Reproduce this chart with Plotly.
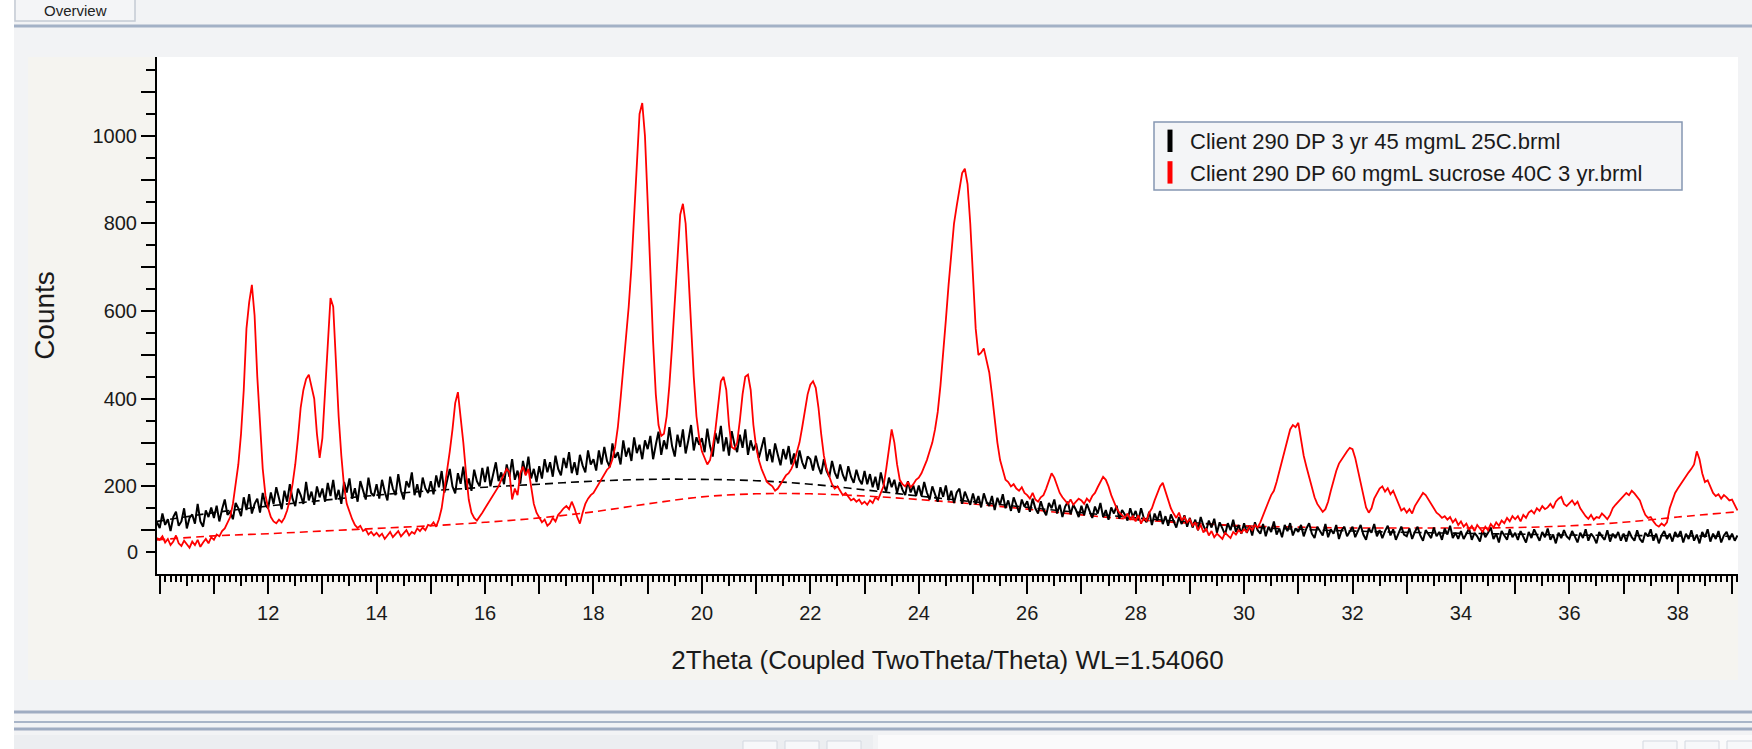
import numpy as np
import plotly.graph_objects as go

# ---------------- data ----------------
TWO_THETA_START = 9.95
TWO_THETA_STEP = 0.05

BLACK_NAME = "Client 290 DP 3 yr 45 mgmL 25C.brml"
RED_NAME = "Client 290 DP 60 mgmL sucrose 40C 3 yr.brml"

black_counts = [118,
    105, 138, 112, 125, 98, 130, 142, 110, 120, 150, 104, 128, 136, 115, 160, 120, 108, 145, 130, 152,
    128, 156, 120, 148, 170, 135, 142, 125, 162, 150, 132, 175, 146, 182, 138, 160, 172, 140, 185, 158,
    150, 186, 160, 198, 170, 148, 190, 165, 205, 172, 155, 195, 180, 160, 210, 168, 188, 158, 200, 175,
    195, 165, 208, 178, 215, 170, 192, 160, 210, 186, 218, 172, 196, 165, 212, 190, 170, 220, 185, 178,
    205, 172, 215, 188, 168, 222, 195, 180, 228, 190, 170, 212, 198, 232, 180, 205, 175, 220, 196, 185,
    212, 182, 225, 198, 235, 186, 210, 240, 200, 184, 230, 206, 245, 192, 218, 190, 238, 212, 200, 242,
    210, 245, 200, 228, 255, 212, 232, 205, 250, 222, 262, 215, 236, 206, 258, 228, 268, 218, 240, 210,
    246, 218, 262, 232, 255, 222, 270, 240, 225, 265, 242, 278, 230, 255, 226, 272, 248, 232, 282, 250,
    262, 236, 282, 250, 290, 258, 244, 298, 265, 278, 250, 305, 268, 288, 258, 312, 276, 295, 262, 305,
    285, 315, 262, 295, 325, 272, 305, 285, 335, 292, 268, 318, 290, 330, 275, 305, 340, 282, 312, 295,
    310, 278, 332, 292, 268, 322, 298, 338, 280, 312, 270, 326, 296, 278, 318, 288, 330, 272, 305, 282,
    298, 265, 290, 312, 258, 285, 255, 298, 272, 248, 285, 262, 292, 250, 275, 242, 282, 255, 240, 268,
    262, 236, 270, 245, 228, 262, 235, 222, 258, 232, 218, 250, 226, 212, 246, 222, 208, 238, 216, 205,
    235, 205, 228, 198, 222, 192, 232, 205, 188, 220, 198, 215, 185, 210, 192, 180, 212, 186, 202, 178,
    202, 178, 210, 186, 170, 200, 182, 165, 198, 176, 202, 168, 190, 162, 186, 195, 160, 188, 172, 158,
    184, 160, 178, 152, 184, 165, 155, 178, 146, 174, 158, 182, 150, 168, 144, 175, 158, 140, 170, 154,
    166, 142, 172, 150, 138, 166, 146, 134, 162, 150, 170, 138, 158, 130, 154, 165, 136, 158, 146, 130,
    156, 134, 160, 142, 128, 154, 138, 162, 130, 146, 124, 152, 138, 156, 126, 146, 136, 122, 150, 130,
    144, 122, 150, 128, 118, 142, 112, 138, 122, 144, 114, 132, 110, 136, 120, 106, 130, 114, 134, 108,
    128, 106, 124, 100, 130, 110, 98, 122, 106, 126, 94, 118, 104, 90, 116, 100, 124, 96, 112, 92,
    116, 94, 110, 88, 118, 100, 92, 114, 86, 108, 96, 120, 90, 104, 84, 112, 98, 116, 88, 104,
    96, 112, 86, 104, 116, 92, 82, 108, 98, 88, 114, 84, 102, 92, 112, 80, 100, 108, 86, 98,
    108, 84, 98, 112, 90, 78, 104, 94, 114, 86, 100, 82, 98, 110, 88, 102, 78, 94, 108, 90,
    86, 104, 80, 96, 108, 88, 76, 100, 92, 82, 106, 86, 96, 78, 104, 90, 110, 82, 94, 80,
    98, 80, 92, 104, 78, 94, 86, 74, 100, 84, 94, 106, 80, 92, 72, 98, 88, 78, 102, 84,
    94, 78, 98, 86, 72, 96, 82, 102, 88, 76, 96, 84, 104, 78, 90, 70, 94, 82, 100, 86,
    80, 98, 86, 72, 94, 82, 102, 76, 92, 84, 70, 96, 86, 78, 100, 74, 92, 82, 96, 76,
    92, 74, 98, 84, 76, 100, 80, 72, 94, 86, 102, 76, 92, 70, 88, 98, 80, 92, 74, 96,
    84, 98, 72, 92, 80, 100, 76, 90, 70, 96, 84, 102, 74, 92, 80, 98, 72, 88, 96, 78,
    92, 76, 88]

red_counts = [82,
    78, 86, 72, 80, 66, 74, 88, 70, 64, 76, 68, 60, 74, 66, 78, 62, 72, 80, 70, 84,
    78, 90, 86, 98, 104, 118, 130, 160, 210, 250, 320, 420, 560, 620, 660, 590, 450, 330, 240, 180,
    150, 130, 120, 116, 124, 118, 128, 145, 170, 205, 250, 310, 380, 420, 445, 455, 430, 400, 320, 265,
    310, 420, 540, 630, 610, 480, 360, 270, 200, 160, 140, 125, 112, 105, 110, 98, 102, 90, 96, 88,
    94, 86, 92, 80, 88, 96, 84, 90, 98, 86, 94, 100, 88, 96, 92, 104, 98, 106, 100, 112,
    110, 118, 108, 125, 150, 190, 230, 280, 330, 390, 415, 360, 300, 230, 170, 140, 128, 122, 130, 140,
    150, 160, 172, 180, 190, 200, 215, 228, 240, 232, 170, 195, 180, 230, 245, 225, 240, 200, 160, 140,
    130, 118, 124, 110, 116, 128, 120, 135, 142, 150, 155, 148, 165, 150, 130, 115, 140, 160, 172, 180,
    185, 195, 205, 215, 228, 238, 244, 262, 290, 335, 400, 470, 540, 610, 700, 820, 960, 1050, 1075, 1000,
    850, 680, 530, 410, 340, 315, 320, 360, 430, 520, 620, 740, 820, 845, 800, 690, 560, 450, 360, 310,
    280, 265, 250, 260, 290, 330, 390, 440, 450, 420, 340, 290, 285, 300, 350, 410, 450, 455, 420, 340,
    290, 260, 240, 225, 210, 205, 200, 190, 195, 205, 215, 225, 230, 240, 255, 275, 300, 335, 375, 410,
    432, 440, 425, 380, 320, 270, 240, 220, 205, 195, 200, 190, 180, 185, 175, 168, 172, 165, 170, 160,
    165, 158, 168, 162, 175, 170, 185, 200, 240, 290, 330, 300, 250, 215, 205, 200, 210, 198, 205, 215,
    220, 230, 245, 260, 280, 300, 330, 370, 430, 500, 580, 660, 740, 800, 840, 880, 915, 925, 890, 800,
    680, 560, 500, 505, 515, 490, 460, 410, 350, 300, 260, 235, 215, 210, 200, 205, 195, 190, 198, 185,
    180, 172, 185, 170, 165, 175, 180, 195, 215, 230, 220, 200, 185, 175, 168, 160, 170, 158, 165, 172,
    168, 160, 172, 165, 178, 185, 198, 210, 222, 215, 200, 180, 165, 150, 140, 135, 128, 138, 125, 132,
    120, 134, 115, 128, 122, 140, 150, 168, 185, 200, 208, 190, 170, 150, 138, 128, 140, 122, 130, 118,
    125, 110, 118, 100, 112, 95, 104, 88, 98, 84, 92, 86, 80, 94, 88, 82, 96, 90, 100, 94,
    102, 96, 108, 100, 112, 106, 118, 135, 150, 165, 180, 190, 210, 235, 260, 285, 310, 330, 340, 335,
    345, 310, 270, 245, 220, 195, 175, 160, 150, 142, 148, 165, 190, 214, 235, 252, 262, 270, 280, 288,
    285, 265, 235, 205, 176, 152, 140, 150, 172, 185, 195, 200, 188, 196, 182, 190, 175, 160, 145, 150,
    140, 148, 138, 155, 165, 178, 185, 180, 170, 160, 150, 140, 135, 128, 132, 124, 130, 118, 125, 112,
    120, 108, 115, 102, 110, 98, 112, 104, 96, 108, 100, 114, 106, 118, 110, 122, 116, 128, 120, 132,
    125, 132, 120, 135, 128, 140, 145, 138, 150, 144, 155, 148, 152, 160, 150, 165, 172, 176, 160, 155,
    162, 168, 158, 165, 150, 140, 132, 126, 135, 124, 130, 128, 138, 132, 125, 135, 150, 158, 165, 172,
    178, 185, 180, 190, 184, 175, 168, 150, 135, 128, 130, 120, 112, 108, 115, 110, 118, 150, 170, 185,
    195, 205, 212, 225, 232, 240, 250, 280, 262, 230, 210, 214, 200, 185, 178, 182, 172, 180, 175, 168,
    170, 158, 145]

# background (dashed) curves, read at whole-degree positions
bg_two_theta = [9.95, 11, 12, 13, 14, 15, 16, 17, 18, 19, 20, 21, 22, 23, 24, 25, 26, 27, 28, 29,
                30, 31, 32, 33, 34, 35, 36, 37, 38, 39.1]
black_bg = [120, 140, 155, 168, 180, 190, 198, 205, 212, 216, 216, 213, 205, 192, 178, 165, 152, 140,
            128, 118, 108, 102, 98, 95, 93, 91, 89, 88, 87, 86]
red_bg = [78, 87, 92, 98, 104, 110, 118, 128, 142, 160, 176, 183, 183, 178, 170, 160, 148, 135, 124,
          116, 110, 107, 105, 105, 105, 106, 110, 118, 130, 142]

x_major = list(range(10, 40))
x_labels = [str(v) if (v % 2 == 0 and v >= 12) else "" for v in x_major]
x_half = [v + 0.5 for v in range(10, 39)]
y_major = list(range(100, 1200, 100))
y_labels = [str(v) if v in (200, 400, 600, 800, 1000) else "" for v in y_major]
y_half = list(range(50, 1200, 100))
y_half_labels = ["0"] + [""] * (len(y_half) - 1)

X_RANGE = [9.95, 39.11]
Y_RANGE = [0, 1180]

two_theta = TWO_THETA_START + TWO_THETA_STEP * np.arange(len(red_counts))

# ---------------- figure ----------------
W, H = 1752, 749
L, R, T, B = 157, 14, 57, 175
PW, PH = W - L - R, H - T - B


def px_x(px):
    return (px - L) / PW


def px_y(py):
    return (H - B - py) / PH


FONT = "Liberation Sans, Arial, sans-serif"
PAGE_GRAY = "#F2F3F5"
PANEL = "#F5F4F0"

fig = go.Figure()

fig.add_trace(go.Scatter(x=bg_two_theta, y=black_bg, mode="lines", showlegend=False,
                         line=dict(color="black", width=1.6, dash="8px,5px", shape="spline")))
fig.add_trace(go.Scatter(x=bg_two_theta, y=red_bg, mode="lines", showlegend=False,
                         line=dict(color="#FF0000", width=1.6, dash="8px,5px", shape="spline")))
fig.add_trace(go.Scatter(x=two_theta, y=black_counts, mode="lines", showlegend=False,
                         line=dict(color="black", width=2)))
fig.add_trace(go.Scatter(x=two_theta, y=red_counts, mode="lines", showlegend=False,
                         line=dict(color="#FF0000", width=1.8)))

# legend entries (vertical bar symbols)
fig.add_trace(go.Scatter(x=[None], y=[None], mode="markers", name=BLACK_NAME, xaxis="x2", yaxis="y",
                         marker=dict(symbol="line-ns", size=16, line=dict(width=5, color="black"))))
fig.add_trace(go.Scatter(x=[None], y=[None], mode="markers", name=RED_NAME, xaxis="x", yaxis="y2",
                         marker=dict(symbol="line-ns", size=16, line=dict(width=5, color="#FF0000"))))

tickfont = dict(family=FONT, size=20, color="#1a1a1a")

shapes = []


def rect(x0, y0, x1, y1, fill, line_color=None, lw=0, layer="below"):
    shapes.append(dict(type="rect", xref="paper", yref="paper", layer=layer,
                       x0=px_x(x0), x1=px_x(x1), y0=px_y(y0), y1=px_y(y1),
                       fillcolor=fill, line=dict(color=line_color or fill, width=lw)))


def hline(y, x0, x1, color, width):
    shapes.append(dict(type="line", xref="paper", yref="paper", layer="below",
                       x0=px_x(x0), x1=px_x(x1), y0=px_y(y), y1=px_y(y),
                       line=dict(color=color, width=width)))


rect(0, 0, 14, H, "white")
rect(14, 0, W, 57, PAGE_GRAY)
rect(14, 57, 28, 680, PAGE_GRAY)
rect(1738, 57, W, 680, PAGE_GRAY)
rect(14, 680, W, H, PAGE_GRAY)
# top button
rect(15, -10, 135, 21, "#F4F5F7", "#C4CAD4", 1.5)
hline(26, 14, W, "#A3B1C6", 3)
# bottom separators and panels
hline(712, 14, W, "#9FACC2", 3)
hline(722, 14, W, "#A9B5C8", 2)
hline(729, 14, W, "#9FACC2", 3)
rect(14, 735, 873, H, "#ECEEF1")
rect(878, 735, W, H, "#FAFAFB")
for bx in (743, 785, 827, 1643, 1685, 1727):
    rect(bx, 741, bx + 34, H + 5, "#F7F8FA", "#D3D8E0", 1)
# legend frame
rect(1154, 122, 1682, 190, "#F4F5F7", "#8597B2", 1.5, layer="above")

fig.update_layout(
    width=W, height=H,
    margin=dict(l=L, r=R, t=T, b=B, pad=0),
    paper_bgcolor=PANEL,
    plot_bgcolor="white",
    shapes=shapes,
    showlegend=True,
    legend=dict(x=px_x(1150), y=px_y(120), xanchor="left", yanchor="top",
                bgcolor="rgba(0,0,0,0)", borderwidth=0,
                font=dict(family=FONT, size=22, color="#1a1a1a"),
                itemwidth=30, tracegroupgap=0),
    xaxis=dict(range=X_RANGE, showgrid=False, zeroline=False,
               showline=True, linecolor="black", linewidth=2,
               tickmode="array", tickvals=x_major, ticktext=x_labels,
               ticks="outside", ticklen=18, tickwidth=2, tickcolor="black",
               tickfont=tickfont, ticklabelstandoff=2,
               minor=dict(tickmode="linear", tick0=0, dtick=0.1, ticks="outside",
                          ticklen=6, tickwidth=1.5, tickcolor="black", showgrid=False),
               title=dict(text="2Theta (Coupled TwoTheta/Theta) WL=1.54060",
                          font=dict(family=FONT, size=26, color="#1a1a1a"), standoff=28)),
    xaxis2=dict(range=X_RANGE, overlaying="x", anchor="y", side="bottom",
                showgrid=False, zeroline=False, showline=False,
                tickmode="array", tickvals=x_half, showticklabels=False,
                ticks="outside", ticklen=11, tickwidth=1.8, tickcolor="black"),
    yaxis=dict(range=Y_RANGE, showgrid=False, zeroline=False,
               showline=True, linecolor="black", linewidth=2,
               tickmode="array", tickvals=y_major, ticktext=y_labels,
               ticks="outside", ticklen=14, tickwidth=2, tickcolor="black",
               tickfont=tickfont, ticklabelstandoff=0,
               title=dict(text="Counts", font=dict(family=FONT, size=28, color="#1a1a1a"),
                          standoff=30)),
    yaxis2=dict(range=Y_RANGE, overlaying="y", anchor="x", side="left",
                showgrid=False, zeroline=False, showline=False,
                tickmode="array", tickvals=y_half, ticktext=y_half_labels,
                ticks="outside", ticklen=10, tickwidth=2, tickcolor="black",
                tickfont=tickfont, ticklabelstandoff=4),
    annotations=[dict(text="Overview", xref="paper", yref="paper",
                      x=px_x(75), y=px_y(10), xanchor="center", yanchor="middle",
                      showarrow=False, font=dict(family=FONT, size=15, color="#222"))],
)

fig.write_html("out.html")
